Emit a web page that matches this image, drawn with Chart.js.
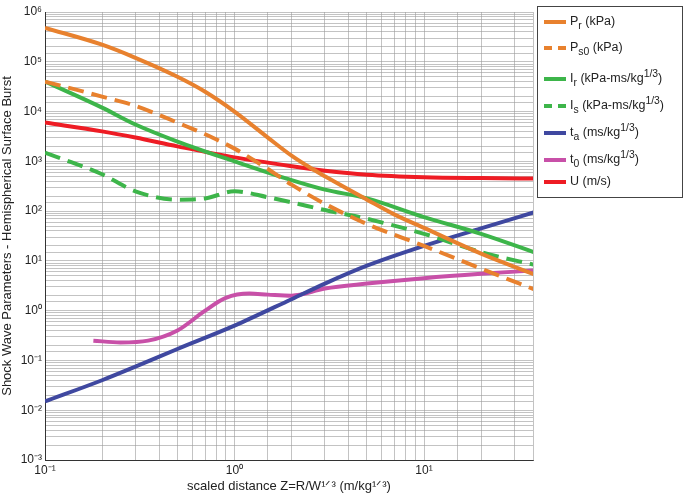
<!DOCTYPE html>
<html><head><meta charset="utf-8">
<script src="https://cdn.jsdelivr.net/npm/chart.js@4"></script>
<style>
body{margin:0;background:#fff;font-family:"Liberation Sans",Arial,sans-serif}
#wrap{position:absolute;left:0;top:0;width:540px;height:494px}
#legend{position:absolute;left:537px;top:6px;width:144px;height:190px;border:1px solid #444;font-size:12.5px;color:#222}
.it{position:absolute;left:6px;height:20px;line-height:20px}
.sw{display:inline-block;width:22px;height:0;border-top:4px solid;vertical-align:middle;margin-right:4px}
.d{border-top-style:dashed}
</style></head><body>
<div id="wrap"><canvas id="c"></canvas></div>
<div id="legend">
 <div class="it" style="top:4px"><span class="sw" style="border-color:#E8812E"></span>P<sub>r</sub> (kPa)</div>
 <div class="it" style="top:30px"><span class="sw d" style="border-color:#E8812E"></span>P<sub>s0</sub> (kPa)</div>
 <div class="it" style="top:57px"><span class="sw" style="border-color:#3DB54A"></span>I<sub>r</sub> (kPa-ms/kg<sup>1/3</sup>)</div>
 <div class="it" style="top:84px"><span class="sw d" style="border-color:#3DB54A"></span>I<sub>s</sub> (kPa-ms/kg<sup>1/3</sup>)</div>
 <div class="it" style="top:111px"><span class="sw" style="border-color:#3F48A0"></span>t<sub>a</sub> (ms/kg<sup>1/3</sup>)</div>
 <div class="it" style="top:138px"><span class="sw" style="border-color:#C850A8"></span>t<sub>0</sub> (ms/kg<sup>1/3</sup>)</div>
 <div class="it" style="top:164px"><span class="sw" style="border-color:#EE1C24"></span>U (m/s)</div>
</div>
<script>
var zPr = [0.1, 0.2, 0.3, 0.5, 0.7, 1, 1.5, 2, 2.5, 3, 5, 7, 10, 20, 40];
var Pr = [4.8e5, 2.2e5, 1.2e5, 5e4, 2.5e4, 1e4, 3e3, 1.3e3, 750, 500, 170, 85, 46, 14, 5];
var zPs0 = [0.1, 0.2, 0.3, 0.5, 0.7, 1, 1.5, 2, 3, 5, 10, 20, 40];
var Ps0 = [4e4, 2e4, 1.3e4, 6e3, 3.5e3, 1.8e3, 700, 340, 140, 55, 20, 7, 2.5];
var zIr = [0.1, 0.2, 0.3, 0.5, 1, 2, 3, 5, 10, 20, 40];
var Ir = [4e4, 1.2e4, 5.5e3, 2.5e3, 1e3, 420, 270, 180, 76, 35, 14];
var zIs = [0.1, 0.2, 0.3, 0.5, 0.7, 1, 1.5, 2, 3, 5, 10, 20, 40];
var Is = [1.5e3, 550, 250, 170, 180, 250, 190, 150, 105, 70, 35, 15, 8];
var zTa = [0.1, 0.2, 0.3, 0.5, 1, 2, 3, 5, 10, 20, 40];
var ta = [0.015, 0.04, 0.075, 0.17, 0.5, 1.7, 3.5, 8, 20, 45, 100];
var zT0 = [0.18, 0.25, 0.35, 0.5, 0.7, 0.9, 1.2, 1.5, 2, 3, 5, 10, 20, 40];
var t0 = [0.25, 0.23, 0.25, 0.4, 1, 1.8, 2.2, 2.1, 2.0, 2.8, 3.5, 4.5, 5.5, 6.5];
var zU = [0.1, 0.2, 0.3, 0.5, 1, 2, 3, 5, 10, 20, 40];
var U = [6e3, 4e3, 3e3, 2e3, 1.2e3, 800, 650, 540, 480, 460, 450];

function pts(xs, ys) { return xs.map(function (x, i) { return {x: x, y: ys[i]}; }); }
function ds(xs, ys, color, dashed) {
    return {data: pts(xs, ys), borderColor: color, borderWidth: 4, pointRadius: 0,
        cubicInterpolationMode: 'monotone', borderDash: dashed ? [16, 8] : [], fill: false};
}
var sup = {'-': '⁻', '0': '⁰', '1': '¹', '2': '²', '3': '³', '4': '⁴', '5': '⁵', '6': '⁶'};
function pow10(v) {
    var e = Math.log10(v);
    if (Math.abs(e - Math.round(e)) > 1e-6) return '';
    return '10' + String(Math.round(e)).split('').map(function (c) { return sup[c]; }).join('');
}
var grid = {color: '#9a9a9a', lineWidth: 0.6, drawTicks: false};
new Chart(document.getElementById('c'), {
    type: 'line',
    data: {datasets: [
        ds(zPr, Pr, '#E8812E'), ds(zPs0, Ps0, '#E8812E', true),
        ds(zIr, Ir, '#3DB54A'), ds(zIs, Is, '#3DB54A', true),
        ds(zTa, ta, '#3F48A0'), ds(zT0, t0, '#C850A8'), ds(zU, U, '#EE1C24')
    ]},
    options: {
        responsive: true, maintainAspectRatio: false, animation: false,
        layout: {padding: {top: 12, right: 7}},
        plugins: {legend: {display: false}, tooltip: {enabled: false}},
        scales: {
            x: {type: 'logarithmic', min: 0.1, max: 37.6, grid: grid,
                border: {color: '#333'},
                afterFit: function (s) { s.height = 34; },
                ticks: {autoSkip: false, maxRotation: 0, color: '#222', font: {family: 'Liberation Sans', size: 12}, callback: pow10},
                title: {display: true, text: 'scaled distance Z=R/W¹ᐟ³ (m/kg¹ᐟ³)', color: '#222', padding: 0, font: {family: 'Liberation Sans', size: 13}}},
            y: {type: 'logarithmic', min: 1e-3, max: 1e6, grid: grid,
                border: {color: '#333'},
                afterFit: function (s) { s.width = 45; },
                ticks: {autoSkip: false, color: '#222', font: {family: 'Liberation Sans', size: 12}, callback: pow10},
                title: {display: true, text: 'Shock Wave Parameters - Hemispherical Surface Burst', color: '#222', padding: 0, font: {family: 'Liberation Sans', size: 13}}}
        }
    }
});
</script>
</body></html>
